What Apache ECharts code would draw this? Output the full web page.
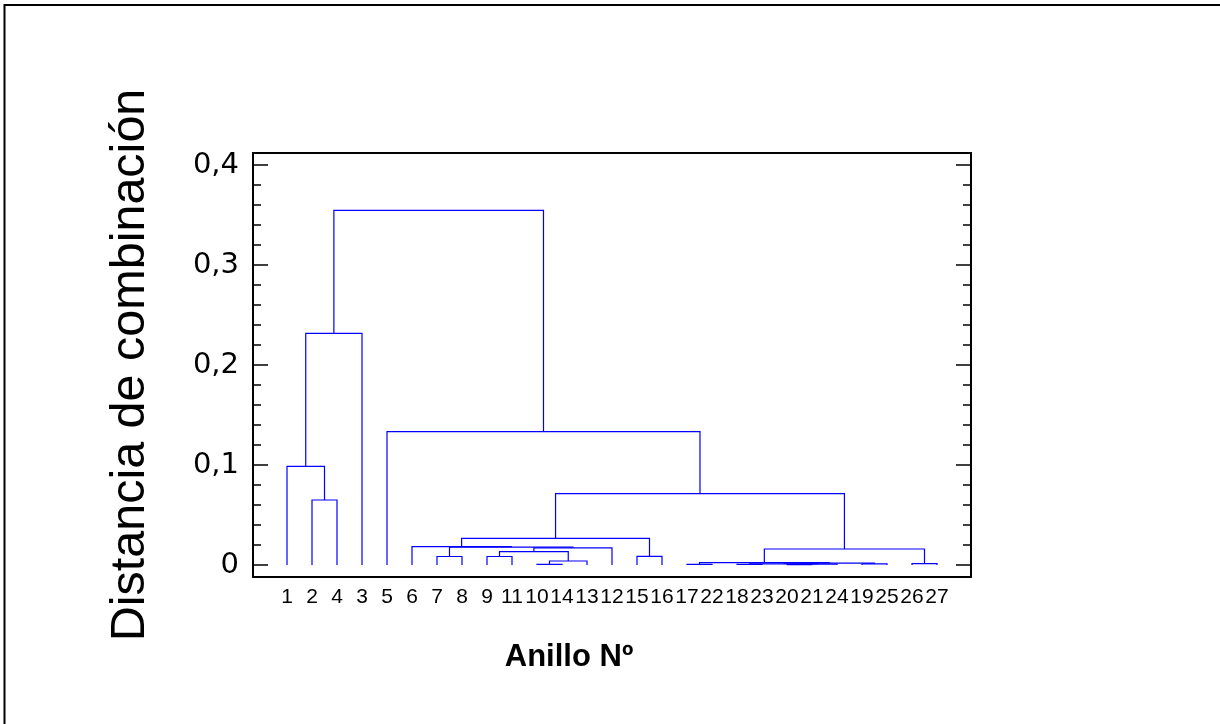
<!DOCTYPE html>
<html>
<head>
<meta charset="utf-8">
<script src="https://cdn.jsdelivr.net/npm/echarts@6/dist/echarts.min.js"></script>
<style>
    html, body { margin: 0; padding: 0; background: #fff; }
    #chart { width: 1220px; height: 724px; }
</style>
</head>
<body>
<div id="chart"></div>
<script>
// Hojas del dendrograma, en el orden en que aparecen en el eje X
const leafLabels = ['1', '2', '4', '3', '5', '6', '7', '8', '9', '11', '10', '14', '13', '12',
    '15', '16', '17', '22', '18', '23', '20', '21', '24', '19', '25', '26', '27'];

// Uniones: nodo izquierdo, nodo derecho y distancia de combinación
// (nodos 0-26 = hojas, 27+ = uniones en este mismo orden)
const mergeLeft = [1, 0, 28, 10, 30, 8, 32, 33, 6, 35, 5, 14, 37, 16, 18, 20, 42, 41, 23, 44, 40, 25, 47, 39, 4, 29];
const mergeRight = [2, 27, 3, 11, 12, 9, 31, 13, 7, 34, 36, 15, 38, 17, 19, 21, 22, 43, 24, 45, 46, 26, 48, 49, 50, 51];
const mergeHeight = [0.065, 0.0987, 0.2317, 0.0007, 0.004, 0.0085, 0.0133, 0.0172, 0.0085, 0.0178,
    0.0184, 0.0087, 0.0267, 0.0007, 0.0006, 0.0004, 0.0009, 0.0012, 0.0012, 0.0018,
    0.0023, 0.0013, 0.016, 0.0713, 0.1333, 0.3547];

// Marcas del eje Y
const yMajorTicks = [0, 0.1, 0.2, 0.3, 0.4];
const yMinorTicks = [0.02, 0.04, 0.06, 0.08, 0.12, 0.14, 0.16, 0.18, 0.22, 0.24, 0.26, 0.28,
    0.32, 0.34, 0.36, 0.38];

const FONT = '"Liberation Sans", Arial, sans-serif';
const TICK_FONT = '"DejaVu Sans", sans-serif';
const Y_MIN = -0.012;
const Y_MAX = 0.412;
const X_MIN = -1.36;
const X_MAX = 27.36;

document.addEventListener('DOMContentLoaded', () => {
    initDendrogram();
});

// posiciones de los nodos: hojas en 0..n-1, uniones en el punto medio
function buildSegments() {
    const nodeX = leafLabels.map((_, i) => i);
    const nodeY = leafLabels.map(() => 0);
    const segs = [];
    mergeLeft.forEach((a, k) => {
        const b = mergeRight[k];
        const h = mergeHeight[k];
        segs.push([nodeX[a], nodeY[a], nodeX[b], nodeY[b], h]);
        nodeX.push((nodeX[a] + nodeX[b]) / 2);
        nodeY.push(h);
    });
    return segs;
}

function yAxisBase(position, withLine) {
    return {
        type: 'value',
        position: position,
        min: Y_MIN,
        max: Y_MAX,
        splitLine: { show: false },
        axisLine: { show: withLine, onZero: false, lineStyle: { color: '#000', width: 2 } },
        axisLabel: { show: false },
        axisTick: { show: false }
    };
}

function initDendrogram() {
    const chart = echarts.init(document.getElementById('chart'));
    const segments = buildSegments();

    const yLeft = yAxisBase('left', true);
    yLeft.axisTick = {
        show: true, inside: true, length: 15, customValues: yMajorTicks,
        lineStyle: { color: '#000', width: 1.5 }
    };
    yLeft.axisLabel = {
        show: true, customValues: yMajorTicks, margin: 14, color: '#000',
        fontFamily: TICK_FONT, fontSize: 29,
        formatter: v => (v === 0 ? '0' : String(v).replace('.', ','))
    };
    yLeft.name = 'Distancia de combinación';
    yLeft.nameLocation = 'middle';
    yLeft.nameRotate = 90;
    yLeft.nameGap = 98;
    yLeft.nameTextStyle = { color: '#000', fontFamily: FONT, fontSize: 48.5 };

    const yLeftMinor = yAxisBase('left', false);
    yLeftMinor.axisTick = {
        show: true, inside: true, length: 8, customValues: yMinorTicks,
        lineStyle: { color: '#000', width: 1.5 }
    };

    const yRight = yAxisBase('right', true);
    yRight.axisTick = {
        show: true, inside: true, length: 15, customValues: yMajorTicks,
        lineStyle: { color: '#000', width: 1.5 }
    };

    const yRightMinor = yAxisBase('right', false);
    yRightMinor.axisTick = {
        show: true, inside: true, length: 8, customValues: yMinorTicks,
        lineStyle: { color: '#000', width: 1.5 }
    };

    const option = {
        backgroundColor: '#fff',
        animation: false,
        grid: {
            left: 253,
            right: 249,
            top: 153,
            bottom: 147,
            containLabel: false
        },
        graphic: [{
            type: 'polyline',
            silent: true,
            shape: { points: [[4.5, 730], [4.5, 5], [1222, 5]] },
            style: { stroke: '#000', lineWidth: 2, fill: null }
        }],
        xAxis: [
            {
                type: 'value',
                position: 'bottom',
                min: X_MIN,
                max: X_MAX,
                splitLine: { show: false },
                axisLine: { onZero: false, lineStyle: { color: '#000', width: 2 } },
                axisTick: { show: false },
                axisLabel: {
                    customValues: leafLabels.map((_, i) => i),
                    formatter: v => leafLabels[Math.round(v)],
                    hideOverlap: false,
                    showMinLabel: true,
                    showMaxLabel: true,
                    color: '#000',
                    fontFamily: FONT,
                    fontSize: 21,
                    margin: 10
                },
                name: 'Anillo Nº',
                nameLocation: 'middle',
                nameGap: 65,
                nameTextStyle: {
                    color: '#000', fontFamily: FONT, fontSize: 31, fontWeight: 'bold',
                    padding: [0, 86, 0, 0]
                }
            },
            {
                type: 'value',
                position: 'top',
                min: X_MIN,
                max: X_MAX,
                splitLine: { show: false },
                axisLine: { onZero: false, lineStyle: { color: '#000', width: 2 } },
                axisTick: { show: false },
                axisLabel: { show: false }
            }
        ],
        yAxis: [yLeft, yLeftMinor, yRight, yRightMinor],
        series: [{
            type: 'custom',
            xAxisIndex: 0,
            yAxisIndex: 0,
            silent: true,
            data: segments,
            renderItem: (params, api) => {
                const h = api.value(4);
                const p1 = api.coord([api.value(0), api.value(1)]);
                const p2 = api.coord([api.value(0), h]);
                const p3 = api.coord([api.value(2), h]);
                const p4 = api.coord([api.value(2), api.value(3)]);
                return {
                    type: 'polyline',
                    shape: { points: [p1, p2, p3, p4] },
                    style: { stroke: '#0000ff', lineWidth: 1.2, fill: null }
                };
            }
        }]
    };

    chart.setOption(option);
    window.addEventListener('resize', () => chart.resize());
}
</script>
</body>
</html>
